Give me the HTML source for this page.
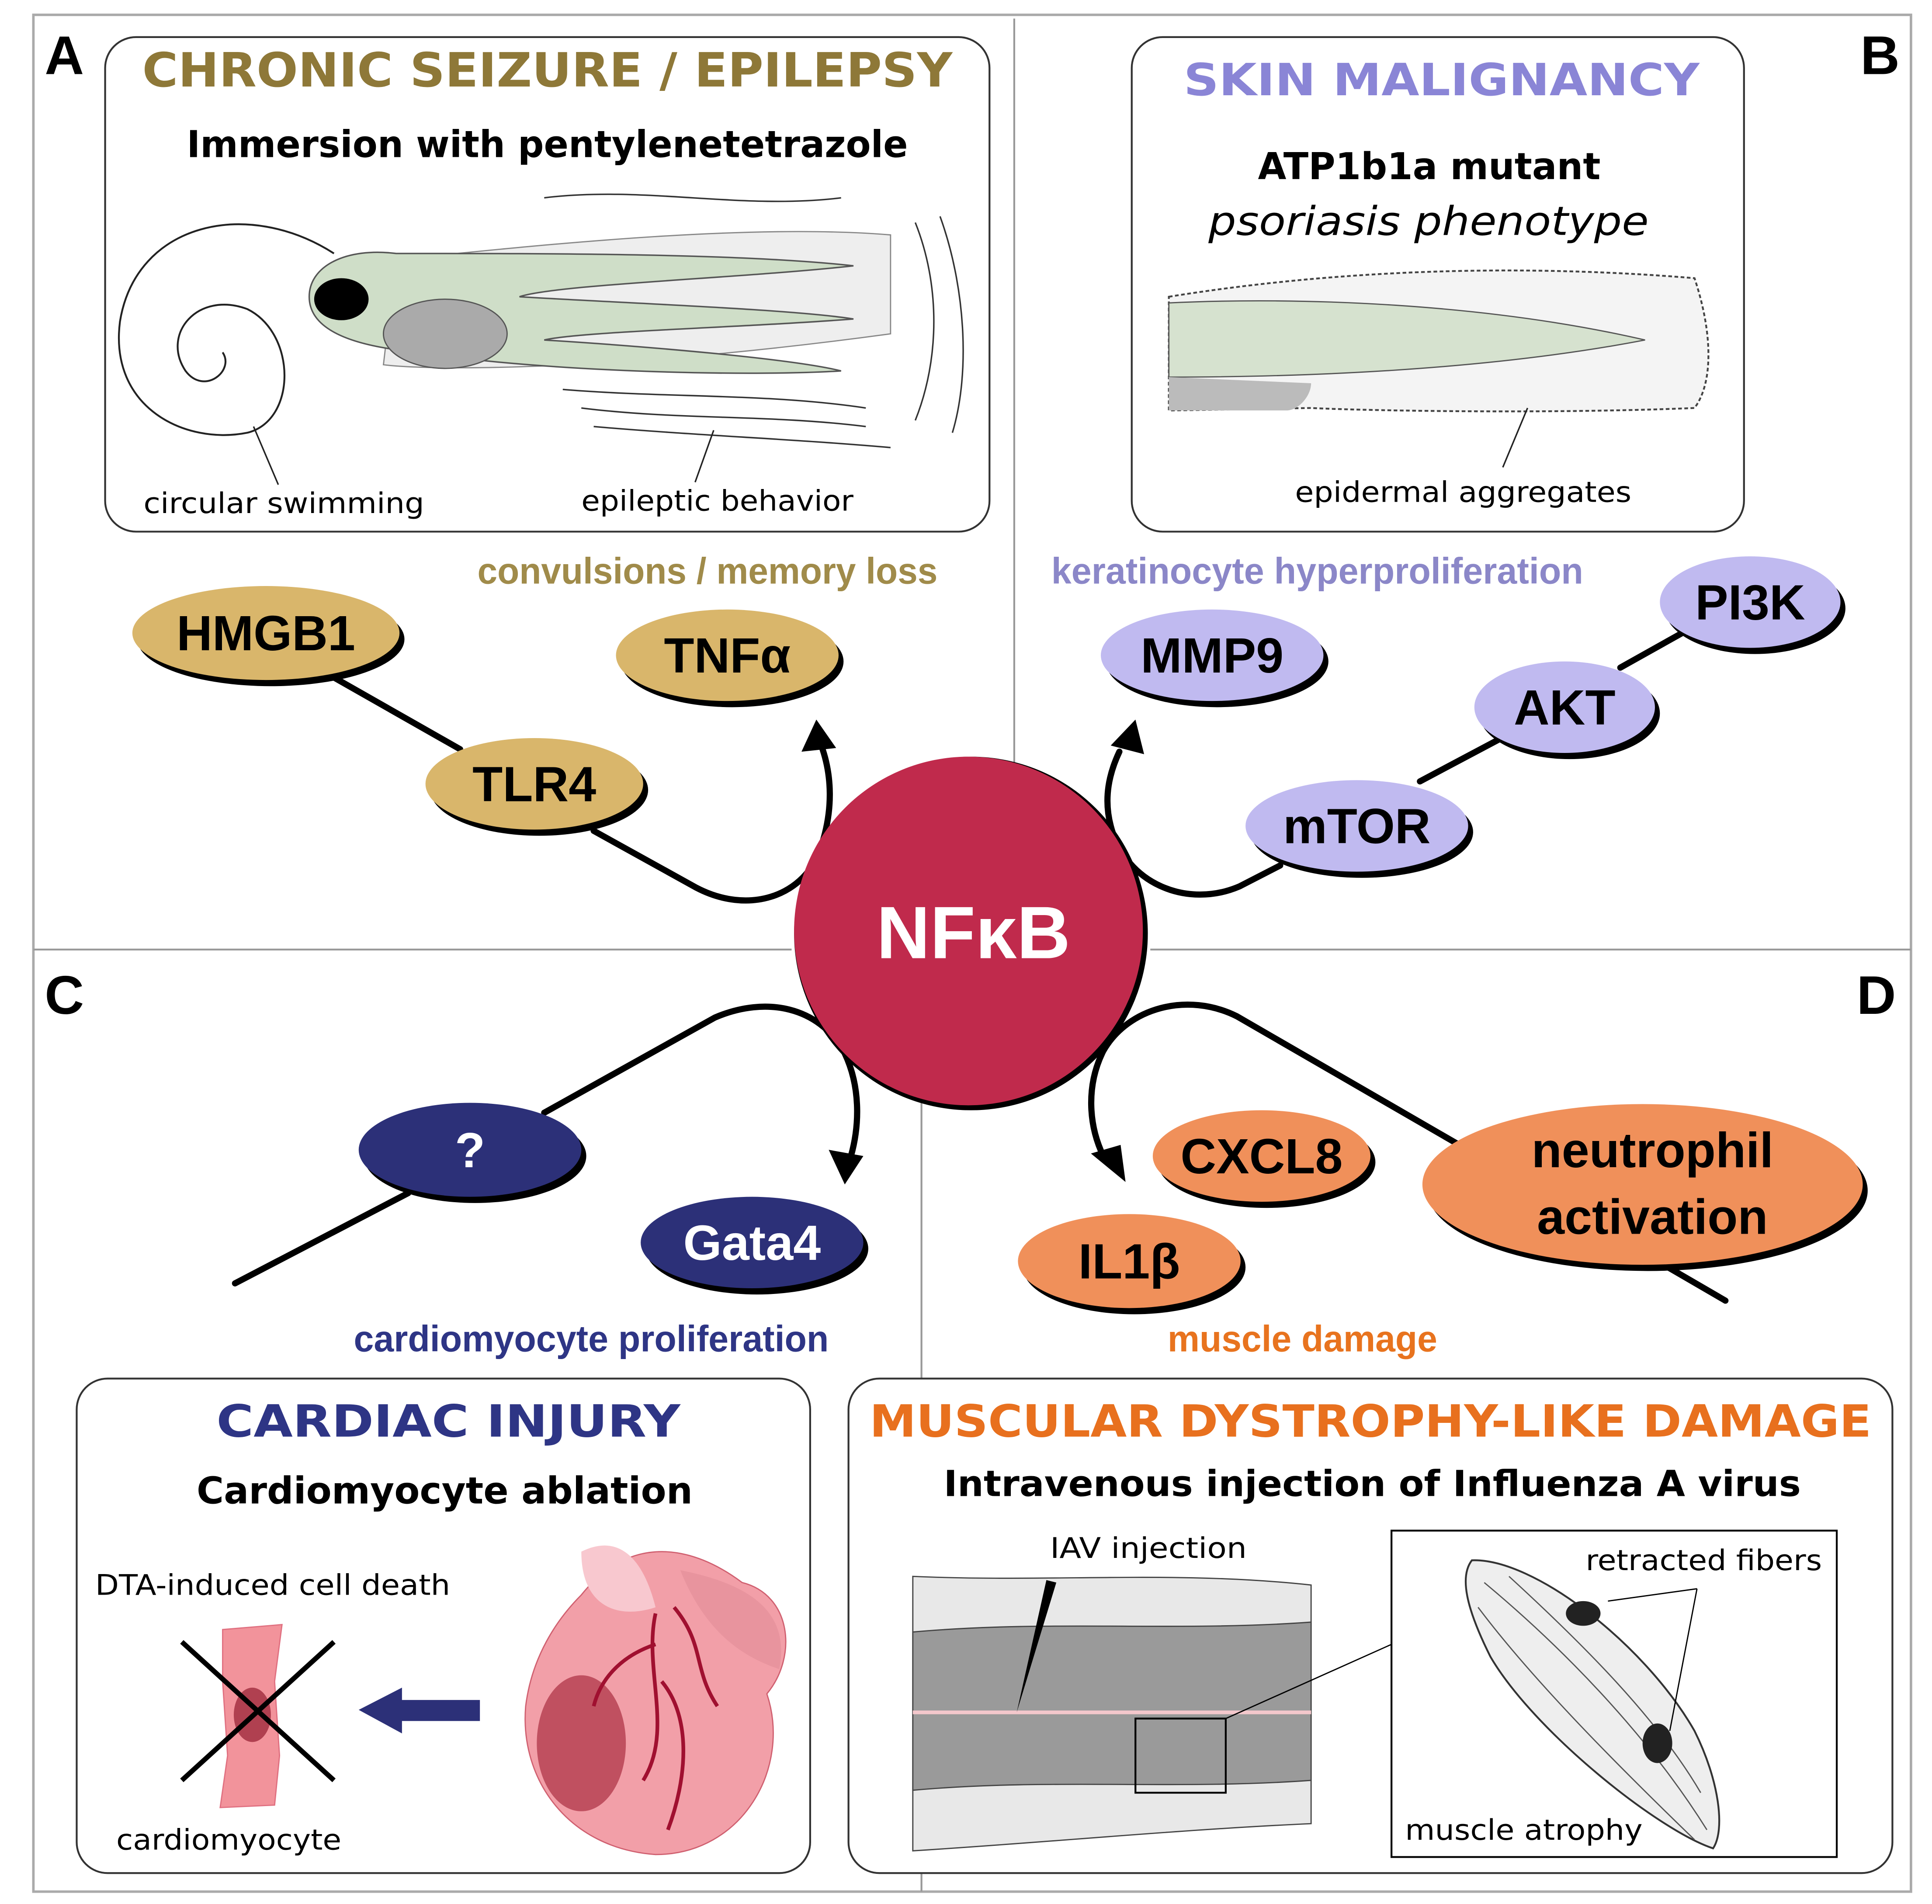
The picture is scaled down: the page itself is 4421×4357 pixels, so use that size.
<!DOCTYPE html>
<html><head><meta charset="utf-8"><style>
html,body{margin:0;padding:0;background:#fff}
svg{display:block}
text{font-family:"Liberation Sans",sans-serif}
.dv{font-family:"DejaVu Sans","Liberation Sans",sans-serif}
</style></head><body>
<svg width="4421" height="4357" viewBox="0 0 1562 1540" preserveAspectRatio="none" xmlns="http://www.w3.org/2000/svg">
<rect x="0" y="0" width="1562" height="1540" fill="#fff"/>
<rect x="27" y="12" width="1518" height="1518" fill="none" stroke="#aaa" stroke-width="2"/>
<line x1="820" y1="15" x2="820" y2="640" stroke="#999" stroke-width="1.5"/>
<line x1="27" y1="768" x2="640" y2="768" stroke="#999" stroke-width="1.5"/>
<line x1="930" y1="768" x2="1545" y2="768" stroke="#999" stroke-width="1.5"/>
<line x1="745" y1="870" x2="745" y2="1530" stroke="#999" stroke-width="1.5"/>

<text x="52" y="60" font-size="44" font-weight="bold" text-anchor="middle">A</text>
<text x="1520" y="60" font-size="44" font-weight="bold" text-anchor="middle">B</text>
<text x="52" y="820" font-size="44" font-weight="bold" text-anchor="middle">C</text>
<text x="1517" y="820" font-size="44" font-weight="bold" text-anchor="middle">D</text>

<!-- Box A -->
<rect x="85" y="30" width="715" height="400" rx="25" fill="#fff" stroke="#333" stroke-width="1.5"/>
<text class="dv" x="115" y="70" font-size="38" font-weight="bold" fill="#8E7838" textLength="655" lengthAdjust="spacingAndGlyphs">CHRONIC SEIZURE / EPILEPSY</text>
<text class="dv" x="151" y="127" font-size="30" font-weight="bold" textLength="583" lengthAdjust="spacingAndGlyphs">Immersion with pentylenetetrazole</text>
<path d="M270,205 C200,160 110,180 97,260 C88,330 150,360 200,350 C240,340 240,270 200,250 C160,235 130,270 150,300 C165,320 190,300 180,285" fill="none" stroke="#222" stroke-width="1.5"/>
<line x1="205" y1="345" x2="225" y2="392" stroke="#222" stroke-width="1.2"/>
<path d="M310,295 C350,300 500,300 720,270 L720,190 C600,180 420,200 320,210 Z" fill="#eeeeee" stroke="#888" stroke-width="1"/>
<path d="M250,240 C250,215 280,200 320,205 C450,205 600,205 690,215 C600,225 450,230 420,240 C500,245 640,250 690,258 C600,265 470,268 440,275 C520,280 640,290 680,300 C600,305 430,300 340,285 C280,280 250,265 250,240 Z" fill="#cfdec8" stroke="#555" stroke-width="1.2"/>
<ellipse cx="360" cy="270" rx="50" ry="28" fill="#aaa" stroke="#555"/>
<ellipse cx="276" cy="242" rx="22" ry="17" fill="#000"/>
<path d="M440,160 C520,150 600,170 680,160 M470,330 C550,340 620,335 700,345 M740,180 C760,230 760,290 740,340 M760,175 C780,230 785,300 770,350 M455,315 C540,322 620,318 700,330 M480,345 C560,352 640,355 720,362" fill="none" stroke="#333" stroke-width="1.2"/>
<line x1="562" y1="390" x2="577" y2="348" stroke="#222" stroke-width="1.2"/>
<text class="dv" x="116" y="415" font-size="23" textLength="227" lengthAdjust="spacingAndGlyphs">circular swimming</text>
<text class="dv" x="470" y="413" font-size="23" textLength="220" lengthAdjust="spacingAndGlyphs">epileptic behavior</text>

<!-- Box B -->
<rect x="915" y="30" width="495" height="400" rx="25" fill="#fff" stroke="#333" stroke-width="1.5"/>
<text class="dv" x="957" y="77" font-size="36" font-weight="bold" fill="#8A85D6" textLength="417" lengthAdjust="spacingAndGlyphs">SKIN MALIGNANCY</text>
<text class="dv" x="1017" y="145" font-size="30" font-weight="bold" textLength="277" lengthAdjust="spacingAndGlyphs">ATP1b1a mutant</text>
<text class="dv" x="977" y="190" font-size="32" font-style="italic" textLength="356" lengthAdjust="spacingAndGlyphs">psoriasis phenotype</text>
<path d="M945,240 C1100,215 1250,215 1370,225 C1385,270 1385,310 1370,330 C1250,335 1100,332 1060,330 L945,332 Z" fill="#f4f4f4" stroke="#444" stroke-width="1.5" stroke-dasharray="3,2"/>
<path d="M945,245 C1050,240 1200,245 1330,275 C1200,300 1050,305 945,305 Z" fill="#d6e2cf" stroke="#555"/>
<path d="M945,305 L1060,310 C1060,320 1050,332 1040,332 L945,332 Z" fill="#bbb"/>
<line x1="1235" y1="330" x2="1215" y2="378" stroke="#222" stroke-width="1.2"/>
<text class="dv" x="1047" y="406" font-size="23" textLength="272" lengthAdjust="spacingAndGlyphs">epidermal aggregates</text>

<text x="572" y="472" font-size="30" font-weight="bold" fill="#A08B4A" text-anchor="middle" textLength="372" lengthAdjust="spacingAndGlyphs">convulsions / memory loss</text>
<text x="1065" y="472" font-size="30" font-weight="bold" fill="#8B87C8" text-anchor="middle" textLength="430" lengthAdjust="spacingAndGlyphs">keratinocyte hyperproliferation</text>
<text x="478" y="1093" font-size="30" font-weight="bold" fill="#2E3585" text-anchor="middle" textLength="384" lengthAdjust="spacingAndGlyphs">cardiomyocyte proliferation</text>
<text x="1053" y="1093" font-size="30" font-weight="bold" fill="#E8731E" text-anchor="middle" textLength="218" lengthAdjust="spacingAndGlyphs">muscle damage</text>

<g fill="none" stroke="#000" stroke-width="5" stroke-linecap="round">
<line x1="270" y1="548" x2="372" y2="606"/>
<path d="M480,672 L563,718 C605,740 648,725 662,690 C675,655 672,625 664,603"/>
<line x1="1148" y1="632" x2="1212" y2="598"/>
<line x1="1310" y1="540" x2="1360" y2="512"/>
<path d="M1035,700 L1002,717 C960,735 910,715 898,668 C892,645 897,625 905,608"/>
<line x1="190" y1="1038" x2="330" y2="965"/>
<path d="M440,900 L578,823 C620,805 662,815 682,850 C696,878 695,910 688,935"/>
<path d="M1178,925 L1000,822 C960,802 912,815 892,850 C878,878 880,910 892,935"/>
<line x1="1340" y1="1020" x2="1395" y2="1052"/>
</g>
<g fill="#000">
<polygon points="660,582 648,608 676,605"/>
<polygon points="918,582 898,603 925,610"/>
<polygon points="683,958 670,930 698,935"/>
<polygon points="910,956 882,933 906,926"/>
</g>

<g>
<ellipse cx="219" cy="517" rx="108" ry="38" fill="#000"/><ellipse cx="215" cy="512" rx="108" ry="38" fill="#D9B66B"/>
<ellipse cx="592" cy="535" rx="90" ry="37" fill="#000"/><ellipse cx="588" cy="530" rx="90" ry="37" fill="#D9B66B"/>
<ellipse cx="436" cy="639" rx="88" ry="37" fill="#000"/><ellipse cx="432" cy="634" rx="88" ry="37" fill="#D9B66B"/>
<ellipse cx="984" cy="535" rx="90" ry="37" fill="#000"/><ellipse cx="980" cy="530" rx="90" ry="37" fill="#C0BAF0"/>
<ellipse cx="1419" cy="492" rx="73" ry="37" fill="#000"/><ellipse cx="1415" cy="487" rx="73" ry="37" fill="#C0BAF0"/>
<ellipse cx="1269" cy="577" rx="73" ry="37" fill="#000"/><ellipse cx="1265" cy="572" rx="73" ry="37" fill="#C0BAF0"/>
<ellipse cx="1101" cy="673" rx="90" ry="37" fill="#000"/><ellipse cx="1097" cy="668" rx="90" ry="37" fill="#C0BAF0"/>
<ellipse cx="384" cy="935" rx="90" ry="38" fill="#000"/><ellipse cx="380" cy="930" rx="90" ry="38" fill="#2C3078"/>
<ellipse cx="612" cy="1010" rx="90" ry="37" fill="#000"/><ellipse cx="608" cy="1005" rx="90" ry="37" fill="#2C3078"/>
<ellipse cx="1024" cy="940" rx="88" ry="37" fill="#000"/><ellipse cx="1020" cy="935" rx="88" ry="37" fill="#F0905A"/>
<ellipse cx="917" cy="1025" rx="90" ry="38" fill="#000"/><ellipse cx="913" cy="1020" rx="90" ry="38" fill="#F0905A"/>
<ellipse cx="1332" cy="963" rx="178" ry="65" fill="#000"/><ellipse cx="1328" cy="958" rx="178" ry="65" fill="#F0905A"/>
</g>
<g font-weight="bold" text-anchor="middle" font-size="40">
<text x="215" y="526">HMGB1</text>
<text x="588" y="544">TNFα</text>
<text x="432" y="648">TLR4</text>
<text x="980" y="544">MMP9</text>
<text x="1415" y="501">PI3K</text>
<text x="1265" y="586">AKT</text>
<text x="1097" y="682">mTOR</text>
<text x="380" y="944" fill="#fff">?</text>
<text x="608" y="1019" fill="#fff">Gata4</text>
<text x="1020" y="949">CXCL8</text>
<text x="913" y="1034">IL1β</text>
<text x="1336" y="944">neutrophil</text>
<text x="1336" y="998">activation</text>
</g>

<circle cx="785" cy="755" r="143" fill="#000"/>
<circle cx="783" cy="753" r="141" fill="#C02A4C"/>
<text x="787" y="775" font-size="60" font-weight="bold" fill="#fff" text-anchor="middle">NFκB</text>

<!-- Box C -->
<rect x="62" y="1115" width="593" height="400" rx="25" fill="#fff" stroke="#333" stroke-width="1.5"/>
<text class="dv" x="175" y="1162" font-size="36" font-weight="bold" fill="#2E3585" textLength="375" lengthAdjust="spacingAndGlyphs">CARDIAC INJURY</text>
<text class="dv" x="159" y="1216" font-size="30" font-weight="bold" textLength="401" lengthAdjust="spacingAndGlyphs">Cardiomyocyte ablation</text>
<text class="dv" x="77" y="1290" font-size="23" textLength="287" lengthAdjust="spacingAndGlyphs">DTA-induced cell death</text>
<path d="M180,1318 L228,1314 L222,1360 L226,1420 L222,1460 L178,1462 L184,1420 L180,1360 Z" fill="#F2939B" stroke="#e07080"/>
<ellipse cx="204" cy="1387" rx="15" ry="22" fill="#b04050"/>
<line x1="147" y1="1328" x2="270" y2="1440" stroke="#000" stroke-width="4"/>
<line x1="270" y1="1328" x2="147" y2="1440" stroke="#000" stroke-width="4"/>
<polygon points="290,1383 325,1365 325,1375 388,1375 388,1392 325,1392 325,1402" fill="#2C3078"/>
<path d="M470,1290 C510,1240 560,1250 600,1280 C640,1290 645,1340 620,1370 C640,1430 600,1500 530,1500 C460,1495 420,1440 425,1380 C430,1340 450,1310 470,1290 Z" fill="#F29FA8" stroke="#d06070"/>
<path d="M470,1255 C500,1240 520,1260 530,1300 C500,1310 470,1300 470,1255 Z" fill="#F8C8CF"/>
<path d="M550,1270 C600,1280 640,1300 630,1350 C600,1340 570,1320 550,1270 Z" fill="#E8949E"/>
<ellipse cx="470" cy="1410" rx="36" ry="55" fill="#C05060"/>
<path d="M530,1305 C520,1350 545,1400 520,1440 M530,1330 C500,1340 485,1360 480,1380 M535,1360 C560,1390 555,1440 540,1480 M545,1300 C570,1330 560,1350 580,1380" fill="none" stroke="#A01030" stroke-width="3"/>
<text class="dv" x="94" y="1496" font-size="23" textLength="182" lengthAdjust="spacingAndGlyphs">cardiomyocyte</text>

<!-- Box D -->
<rect x="686" y="1115" width="844" height="400" rx="25" fill="#fff" stroke="#333" stroke-width="1.5"/>
<text class="dv" x="703" y="1162" font-size="36" font-weight="bold" fill="#E8701E" textLength="810" lengthAdjust="spacingAndGlyphs">MUSCULAR DYSTROPHY-LIKE DAMAGE</text>
<text class="dv" x="763" y="1210" font-size="29" font-weight="bold" textLength="693" lengthAdjust="spacingAndGlyphs">Intravenous injection of Influenza A virus</text>
<text class="dv" x="849" y="1260" font-size="23" textLength="159" lengthAdjust="spacingAndGlyphs">IAV injection</text>
<path d="M738,1275 C850,1280 950,1270 1060,1282 L1060,1475 C950,1480 850,1490 738,1497 Z" fill="#e8e8e8" stroke="#444"/>
<path d="M738,1320 C850,1310 950,1320 1060,1312 L1060,1440 C950,1448 850,1438 738,1448 Z" fill="#9a9a9a" stroke="#444"/>
<line x1="738" y1="1385" x2="1060" y2="1385" stroke="#f4c8cc" stroke-width="3"/>
<polygon points="822,1385 846,1278 854,1280" fill="#000"/>
<rect x="918" y="1390" width="73" height="60" fill="none" stroke="#000" stroke-width="1.5"/>
<line x1="991" y1="1390" x2="1125" y2="1330" stroke="#000" stroke-width="1"/>
<rect x="1125" y="1238" width="360" height="264" fill="#fff" stroke="#000" stroke-width="1.5"/>
<path d="M1190,1262 C1240,1260 1330,1330 1370,1400 C1390,1440 1395,1480 1385,1495 C1340,1480 1240,1400 1205,1340 C1185,1300 1180,1275 1190,1262 Z" fill="#eee" stroke="#333" stroke-width="1.5"/>
<path d="M1200,1280 C1260,1330 1330,1400 1380,1480 M1220,1275 C1280,1330 1340,1390 1375,1450 M1195,1300 C1240,1360 1310,1430 1370,1488" fill="none" stroke="#555"/>
<ellipse cx="1280" cy="1305" rx="14" ry="10" fill="#222"/>
<ellipse cx="1340" cy="1410" rx="12" ry="16" fill="#222"/>
<line x1="1300" y1="1295" x2="1372" y2="1285" stroke="#000"/>
<line x1="1372" y1="1285" x2="1350" y2="1400" stroke="#000"/>
<text class="dv" x="1282" y="1270" font-size="23" textLength="191" lengthAdjust="spacingAndGlyphs">retracted fibers</text>
<text class="dv" x="1136" y="1488" font-size="23" textLength="192" lengthAdjust="spacingAndGlyphs">muscle atrophy</text>
</svg>
</body></html>
